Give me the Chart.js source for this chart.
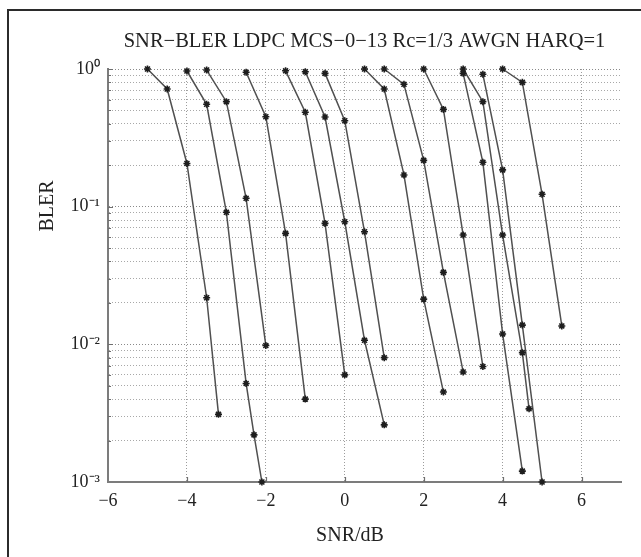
<!DOCTYPE html>
<html><head><meta charset="utf-8">
<script src="https://cdn.jsdelivr.net/npm/chart.js@4.4.1/dist/chart.umd.min.js"></script>
<style>
html,body{margin:0;padding:0;background:#fff;width:641px;height:557px;overflow:hidden}
#wrap{position:absolute;left:0;top:0;width:641px;height:557px}
#frame{position:absolute;left:7px;top:9px;width:700px;height:600px;border-left:2px solid #2b2b2b;border-top:2px solid #2b2b2b;pointer-events:none}
</style></head><body>
<div id="wrap"><canvas id="c" width="641" height="557"></canvas></div>
<div id="frame"></div>
<script>
const chartTitle = 'SNR\u2212BLER LDPC MCS\u22120\u221213 Rc=1/3 AWGN HARQ=1';
const xAxisTitle = 'SNR/dB';
const yAxisTitle = 'BLER';
const xTickValues = [-6, -4, -2, 0, 2, 4, 6];
const yDecades = [1, 0.1, 0.01, 0.001];
const yTickLabels = ['10\u2070', '10\u207B\u00B9', '10\u207B\u00B2', '10\u207B\u00B3'];

const mcs0Snr = [-5, -4.5, -4, -3.5, -3.2];
const mcs0Bler = [1.0, 0.716, 0.206, 0.0218, 0.0031];
const mcs1Snr = [-4, -3.5, -3, -2.5, -2.3, -2.1];
const mcs1Bler = [0.967, 0.554, 0.091, 0.0052, 0.0022, 0.001];
const mcs2Snr = [-3.5, -3, -2.5, -2];
const mcs2Bler = [0.983, 0.579, 0.115, 0.0098];
const mcs3Snr = [-2.5, -2, -1.5, -1];
const mcs3Bler = [0.946, 0.45, 0.064, 0.0040];
const mcs4Snr = [-1.5, -1, -0.5, 0];
const mcs4Bler = [0.97, 0.485, 0.0756, 0.0060];
const mcs5Snr = [-1, -0.5, 0, 0.5, 1];
const mcs5Bler = [0.956, 0.448, 0.0777, 0.0107, 0.0026];
const mcs6Snr = [-0.5, 0, 0.5, 1];
const mcs6Bler = [0.93, 0.421, 0.0657, 0.0080];
const mcs7Snr = [0.5, 1, 1.5, 2, 2.5];
const mcs7Bler = [1.0, 0.716, 0.17, 0.0213, 0.0045];
const mcs8Snr = [1, 1.5, 2, 2.5, 3];
const mcs8Bler = [1.0, 0.774, 0.217, 0.0333, 0.0063];
const mcs9Snr = [2, 2.5, 3, 3.5];
const mcs9Bler = [1.0, 0.509, 0.0622, 0.0069];
const mcs10Snr = [3, 3.5, 4, 4.5];
const mcs10Bler = [0.93, 0.21, 0.0119, 0.0012];
const mcs11Snr = [3, 3.5, 4, 4.5, 4.67];
const mcs11Bler = [1.0, 0.579, 0.0622, 0.0087, 0.0034];
const mcs12Snr = [3.5, 4, 4.5, 5];
const mcs12Bler = [0.915, 0.185, 0.0138, 0.001];
const mcs13Snr = [4, 4.5, 5, 5.5];
const mcs13Bler = [1.0, 0.80, 0.123, 0.0136];

const seriesList = [
  [mcs0Snr, mcs0Bler], [mcs1Snr, mcs1Bler], [mcs2Snr, mcs2Bler], [mcs3Snr, mcs3Bler],
  [mcs4Snr, mcs4Bler], [mcs5Snr, mcs5Bler], [mcs6Snr, mcs6Bler], [mcs7Snr, mcs7Bler],
  [mcs8Snr, mcs8Bler], [mcs9Snr, mcs9Bler], [mcs10Snr, mcs10Bler], [mcs11Snr, mcs11Bler],
  [mcs12Snr, mcs12Bler], [mcs13Snr, mcs13Bler]
];

const FONT = '"Liberation Serif", "Times New Roman", serif';
const INK = '#222';

const datasets = seriesList.map((s, i) => ({
  label: 'MCS-' + i,
  data: s[0].map((x, j) => ({x: x, y: s[1][j]})),
  borderColor: '#505050',
  borderWidth: 1.5,
  tension: 0,
  pointStyle: 'star',
  pointRadius: 3.5,
  pointBorderWidth: 1.6,
  pointBorderColor: '#1e1e1e',
  pointBackgroundColor: '#1e1e1e',
  clip: 8
}));

const yTickValues = [];
for (let e = 0; e >= -3; e--) {
  for (let m = 1; m <= 9; m++) {
    const v = m * Math.pow(10, e);
    if (v <= 1.0000001 && v >= 0.00099999) yTickValues.push(v);
  }
}

function isDecade(v) {
  const l = Math.log10(v);
  return Math.abs(l - Math.round(l)) < 1e-6;
}
function fmtX(v) { return v < 0 ? '\u2212' + Math.abs(v) : String(v); }
function fmtY(v) {
  if (!isDecade(v)) return '';
  const idx = yDecades.findIndex(d => Math.abs(Math.log10(d) - Math.log10(v)) < 1e-6);
  return idx >= 0 ? yTickLabels[idx] : '';
}

const innerTicks = {
  id: 'innerTicks',
  beforeDatasetsDraw(chart) {
    const c = chart.ctx, a = chart.chartArea;
    const xs = chart.scales.x, ys = chart.scales.y;
    c.save();
    c.strokeStyle = '#6e6e6e';
    c.lineWidth = 1.2;
    c.beginPath();
    xTickValues.forEach(v => {
      const px = Math.round(xs.getPixelForValue(v)) + 0.5;
      if (px > a.left + 2 && px < a.right - 2) { c.moveTo(px, a.bottom); c.lineTo(px, a.bottom - 5); }
    });
    yTickValues.forEach(v => {
      const py = Math.round(ys.getPixelForValue(v)) + 0.5;
      const len = isDecade(v) ? 5 : 3;
      if (py < a.bottom - 2) { c.moveTo(a.left, py); c.lineTo(a.left + len, py); }
    });
    c.stroke();
    c.restore();
  }
};

const axisTitles = {
  id: 'axisTitles',
  afterDraw(chart) {
    const c = chart.ctx;
    c.save();
    c.fillStyle = INK;
    c.font = '20px ' + FONT;
    c.textAlign = 'center';
    c.textBaseline = 'alphabetic';
    c.fillText(xAxisTitle, 350, 540.5);
    c.translate(53, 206);
    c.rotate(-Math.PI / 2);
    c.fillText(yAxisTitle, 0, 0);
    c.restore();
  }
};

new Chart(document.getElementById('c').getContext('2d'), {
  type: 'line',
  data: {datasets: datasets},
  options: {
    responsive: false,
    animation: false,
    events: [],
    layout: {padding: {left: 0, right: 20, top: 0, bottom: 0}},
    plugins: {
      legend: {display: false},
      tooltip: {enabled: false},
      title: {
        display: true, text: chartTitle, fullSize: false, color: INK,
        font: {family: FONT, size: 20.5, weight: 'normal', lineHeight: 1.2},
        padding: {top: 29, bottom: 15.4}
      }
    },
    scales: {
      x: {
        type: 'linear', min: -6, max: 7,
        afterBuildTicks: s => { s.ticks = xTickValues.map(v => ({value: v})); },
        afterFit: s => { s.height = 75; },
        ticks: {autoSkip: false, maxRotation: 0, padding: 8, color: INK,
                font: {family: FONT, size: 18}, callback: v => fmtX(v)},
        grid: {color: '#9c9c9c', lineWidth: 1, drawTicks: false},
        border: {display: true, color: '#7c7c7c', width: 2, dash: [1, 2]}
      },
      y: {
        type: 'logarithmic', min: 0.001, max: 1,
        afterBuildTicks: s => { s.ticks = yTickValues.map(v => ({value: v, major: isDecade(v)})); },
        afterFit: s => { s.width = 108; },
        ticks: {autoSkip: false, padding: 8, color: INK,
                font: {family: FONT, size: 18}, callback: v => fmtY(v)},
        grid: {color: ctx => (ctx.tick && isDecade(ctx.tick.value)) ? '#8a8a8a' : '#a8a8a8',
               lineWidth: 1, drawTicks: false},
        border: {display: true, color: '#7c7c7c', width: 2, dash: [1, 2]}
      }
    }
  },
  plugins: [innerTicks, axisTitles]
});
</script>
</body></html>
